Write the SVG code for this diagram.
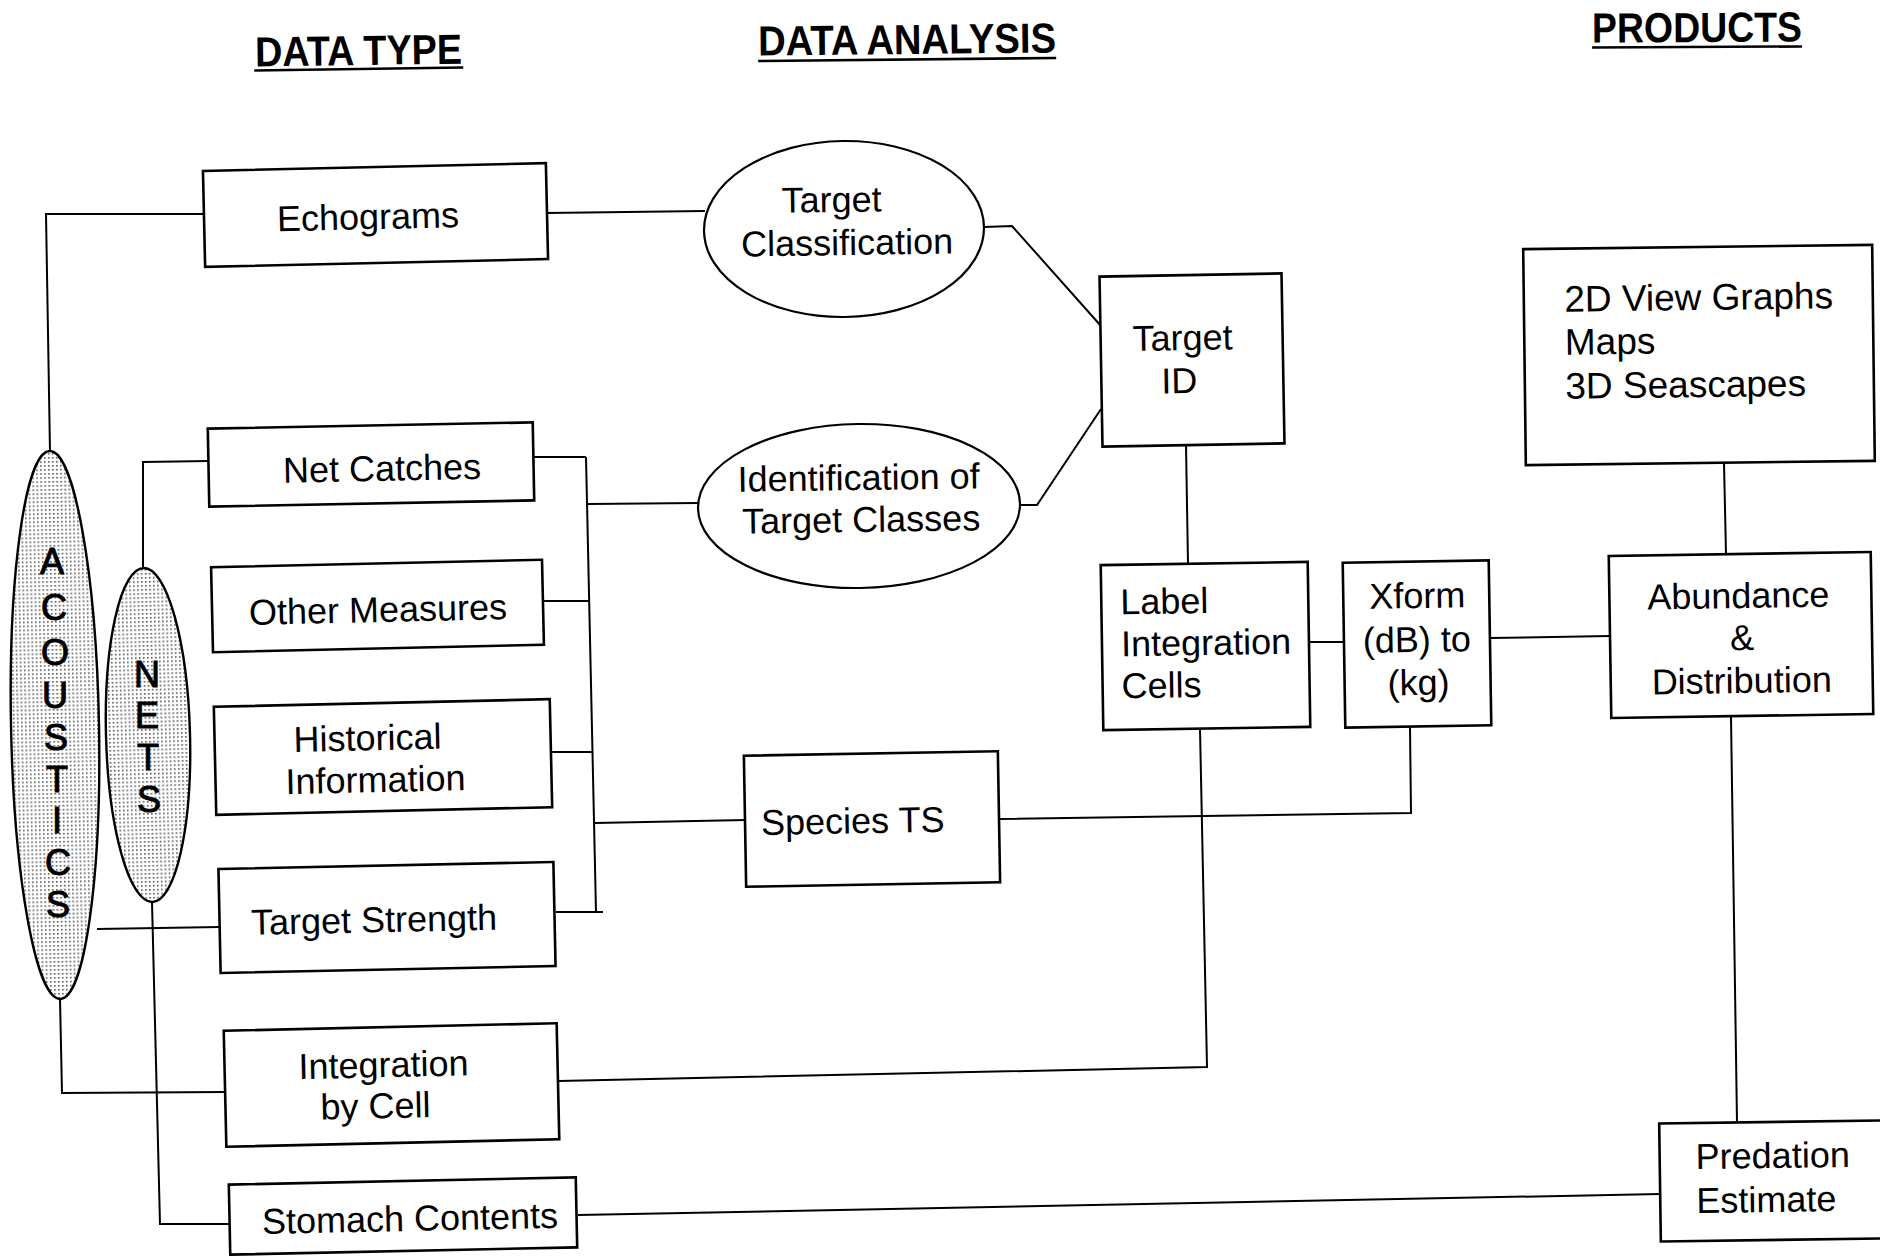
<svg xmlns="http://www.w3.org/2000/svg" width="1880" height="1256" viewBox="0 0 1880 1256">
<defs>
<pattern id="stip" width="4" height="4" patternUnits="userSpaceOnUse">
<rect width="4" height="4" fill="#fff"/>
<rect x="1" y="1" width="1.6" height="1.6" fill="#555"/>
</pattern>
<style>
.box{fill:#fff;stroke:#000;stroke-width:2.6}
.ell{fill:#fff;stroke:#000;stroke-width:2.2}
.dot{fill:url(#stip);stroke:#000;stroke-width:2.4}
.t{font-family:"Liberation Sans",Arial,sans-serif;font-size:36px;fill:#000}
.m{text-anchor:middle}
.h{font-family:"Liberation Sans",Arial,sans-serif;font-weight:bold;font-size:42px;fill:#000}
.ul{stroke:#000;stroke-width:2.6}
.lt{font-family:"Liberation Sans",Arial,sans-serif;font-size:36px;fill:#000;stroke:#000;stroke-width:1;text-anchor:middle}
#connectors polyline,#connectors line{fill:none;stroke:#000;stroke-width:2}
</style>
</defs>
<rect width="1880" height="1256" fill="#fff"/>

<g id="headers">
<g transform="rotate(-0.8 358 50)">
<text class="h" x="255" y="65" textLength="207" lengthAdjust="spacingAndGlyphs">DATA TYPE</text>
<line class="ul" x1="254" y1="69" x2="463" y2="69"/>
</g>
<g transform="rotate(-0.6 907 40)">
<text class="h" x="758" y="54" textLength="298" lengthAdjust="spacingAndGlyphs">DATA ANALYSIS</text>
<line class="ul" x1="758" y1="59.5" x2="1056" y2="59.5"/>
</g>
<g transform="rotate(-0.3 1697 30)">
<text class="h" x="1592" y="42" textLength="210" lengthAdjust="spacingAndGlyphs">PRODUCTS</text>
<line class="ul" x1="1592" y1="47" x2="1802" y2="47"/>
</g>
</g>

<g id="connectors">
<polyline points="50,452 46,214 204,214"/>
<polyline points="143,569 143,462 209,461"/>
<line x1="97" y1="929" x2="220" y2="927"/>
<polyline points="60,999 62,1093 226,1092"/>
<polyline points="152,902 160,1224 231,1224"/>
<line x1="547" y1="213" x2="705" y2="211"/>
<polyline points="984,227 1012,226 1101,326"/>
<polyline points="1019,505 1037,505 1101,409"/>
<line x1="586" y1="457" x2="596" y2="912"/>
<line x1="534" y1="457" x2="586" y2="457"/>
<line x1="543" y1="601" x2="589" y2="601"/>
<line x1="552" y1="752" x2="592" y2="752"/>
<line x1="556" y1="912" x2="603" y2="912"/>
<line x1="588" y1="504" x2="699" y2="503"/>
<line x1="595" y1="823" x2="746" y2="820"/>
<polyline points="999,819 1411,813 1410,727"/>
<line x1="1186" y1="445" x2="1188" y2="564"/>
<line x1="1309" y1="642" x2="1344" y2="642"/>
<line x1="1490" y1="638" x2="1610" y2="636"/>
<line x1="1724" y1="463" x2="1726" y2="554"/>
<line x1="1731" y1="717" x2="1737" y2="1122"/>
<polyline points="559,1081 1207,1067 1200,729"/>
<line x1="578" y1="1215" x2="1660" y2="1194"/>
</g>

<g id="acoustics">
<ellipse class="dot" cx="55" cy="725" rx="44" ry="274" transform="rotate(-1.1 55 725)"/>
<text class="lt" x="52" y="574">A</text>
<text class="lt" x="54" y="620">C</text>
<text class="lt" x="55" y="665">O</text>
<text class="lt" x="55" y="708">U</text>
<text class="lt" x="56" y="750">S</text>
<text class="lt" x="57" y="792">T</text>
<text class="lt" x="57" y="833">I</text>
<text class="lt" x="58" y="875">C</text>
<text class="lt" x="58" y="917">S</text>
</g>

<g id="nets">
<ellipse class="dot" cx="148" cy="735" rx="42" ry="167" transform="rotate(-1.5 148 735)"/>
<text class="lt" x="147" y="687">N</text>
<text class="lt" x="147" y="728">E</text>
<text class="lt" x="148" y="770">T</text>
<text class="lt" x="149" y="812">S</text>
</g>

<g id="echograms" transform="rotate(-1.3 375.5 215)">
<rect class="box" x="204" y="167" width="343" height="96"/>
<text class="t m" x="368" y="229">Echograms</text>
</g>

<g id="net-catches" transform="rotate(-1.1 371 464.5)">
<rect class="box" x="208.5" y="425.5" width="325" height="78"/>
<text class="t m" x="382" y="481">Net Catches</text>
</g>

<g id="other-measures" transform="rotate(-1.3 377.5 606)">
<rect class="box" x="212" y="563.5" width="331" height="85"/>
<text class="t m" x="378" y="622">Other Measures</text>
</g>

<g id="historical-information" transform="rotate(-1.3 383 757)">
<rect class="box" x="215" y="703" width="336" height="108"/>
<text class="t m" x="368" y="750">Historical</text>
<text class="t m" x="375" y="792">Information</text>
</g>

<g id="target-strength" transform="rotate(-1.2 387 917.5)">
<rect class="box" x="219.5" y="865.5" width="335" height="104"/>
<text class="t m" x="374" y="932">Target Strength</text>
</g>

<g id="integration-by-cell" transform="rotate(-1.3 391.5 1085)">
<rect class="box" x="225" y="1027" width="333" height="116"/>
<text class="t m" x="384" y="1077">Integration</text>
<text class="t m" x="375" y="1118">by Cell</text>
</g>

<g id="stomach-contents" transform="rotate(-1.2 403 1216)">
<rect class="box" x="229.5" y="1181" width="347" height="70"/>
<text class="t m" x="410" y="1231">Stomach Contents</text>
</g>

<g id="target-classification" transform="rotate(-0.8 844 229)">
<ellipse class="ell" cx="844" cy="229" rx="140" ry="88"/>
<text class="t m" x="832" y="212">Target</text>
<text class="t m" x="847" y="255">Classification</text>
</g>

<g id="identification-of-target-classes" transform="rotate(-0.8 859 506)">
<ellipse class="ell" cx="859" cy="506" rx="161" ry="82"/>
<text class="t m" x="859" y="490">Identification of</text>
<text class="t m" x="861" y="532">Target Classes</text>
</g>

<g id="species-ts" transform="rotate(-1 872 819)">
<rect class="box" x="745" y="753.5" width="254" height="131"/>
<text class="t" x="761" y="833">Species TS</text>
</g>

<g id="target-id" transform="rotate(-1 1192 360)">
<rect class="box" x="1101" y="275" width="182" height="170"/>
<text class="t m" x="1183" y="350">Target</text>
<text class="t m" x="1179" y="393">ID</text>
</g>

<g id="label-integration-cells" transform="rotate(-0.9 1205.5 646)">
<rect class="box" x="1102" y="563.5" width="207" height="165"/>
<text class="t" x="1121" y="613">Label</text>
<text class="t" x="1121" y="655">Integration</text>
<text class="t" x="1121" y="697">Cells</text>
</g>

<g id="xform" transform="rotate(-0.9 1417 644)">
<rect class="box" x="1344" y="561.5" width="146" height="165"/>
<text class="t m" x="1418" y="608">Xform</text>
<text class="t m" x="1417" y="652">(dB) to</text>
<text class="t m" x="1418" y="695">(kg)</text>
</g>

<g id="views" transform="rotate(-0.7 1699 355)">
<rect class="box" x="1524.5" y="247" width="349" height="216"/>
<text class="t" style="font-size:37px" x="1565" y="310">2D View Graphs</text>
<text class="t" style="font-size:37px" x="1565" y="353">Maps</text>
<text class="t" style="font-size:37px" x="1565" y="397">3D Seascapes</text>
</g>

<g id="abundance-distribution" transform="rotate(-0.9 1741 635)">
<rect class="box" x="1610" y="554" width="262" height="162"/>
<text class="t m" x="1739" y="608">Abundance</text>
<text class="t m" x="1742" y="650">&amp;</text>
<text class="t m" x="1741" y="693">Distribution</text>
</g>

<g id="predation-estimate" transform="rotate(-0.8 1770 1181)">
<rect class="box" x="1660" y="1122" width="240" height="118"/>
<text class="t" x="1696" y="1168">Predation</text>
<text class="t" x="1696" y="1212">Estimate</text>
</g>
</svg>
